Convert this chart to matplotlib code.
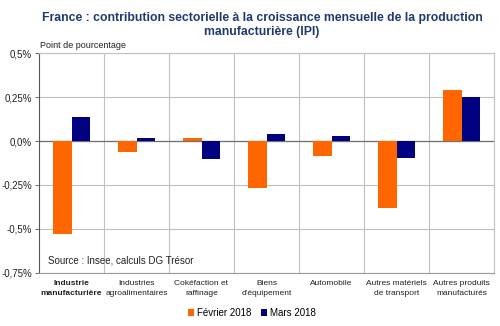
import matplotlib
matplotlib.use('Agg')
import matplotlib.pyplot as plt
import numpy as np

plt.rcParams['font.family'] = ['Liberation Sans', 'DejaVu Sans']

categories = ['Industrie\nmanufacturière', 'Industries\nagroalimentaires', 'Cokéfaction et\nraffinage',
              "Biens\nd'équipement", 'Automobile', 'Autres matériels\nde transport',
              'Autres produits\nmanufacturés']
fevrier = [-0.53, -0.065, 0.02, -0.27, -0.085, -0.38, 0.29]
mars = [0.135, 0.017, -0.10, 0.04, 0.03, -0.095, 0.25]
yticks = [-0.75, -0.5, -0.25, 0.0, 0.25, 0.5]
ytick_labels = ['-0,75%', '-0,5%', '-0,25%', '0,0%', '0,25%', '0,5%']

fig = plt.figure(figsize=(5, 3.26), dpi=100)
ax = fig.add_axes([0.078, 0.163, 0.91, 0.674])

x = np.arange(len(categories))
w = 0.285
ax.bar(x - w / 2, fevrier, w, color='#FF6600', label='Février 2018', zorder=3)
ax.bar(x + w / 2, mars, w, color='#000080', label='Mars 2018', zorder=3)

ax.set_xlim(-0.5, len(categories) - 0.5)
ax.set_ylim(-0.75, 0.5)
ax.set_yticks(yticks)
ax.set_yticklabels(ytick_labels, fontsize=7, color='#222222')
ax.tick_params(axis='y', length=3, width=0.6, color='#555555', pad=2)

# gridlines
for y in yticks:
    ax.axhline(y, color='#C0C0C0', lw=0.8, zorder=1)
ax.axhline(0, color='#707070', lw=0.9, zorder=2)
for b in np.arange(0.5, len(categories) - 0.5, 1):
    ax.axvline(b, color='#C0C0C0', lw=0.8, zorder=1)

ax.set_xticks(x)
ax.set_xticklabels(categories, fontsize=6, color='#222222', linespacing=1.6)
ax.get_xticklabels()[0].set_fontweight('bold')
ax.tick_params(axis='x', length=0, pad=5)

for s in ['top', 'right']:
    ax.spines[s].set_color('#C0C0C0')
    ax.spines[s].set_linewidth(0.8)
ax.spines['left'].set_color('#555555')
ax.spines['left'].set_linewidth(0.8)
ax.spines['bottom'].set_color('#999999')
ax.spines['bottom'].set_linewidth(0.8)

fig.text(0.524, 0.962, 'France : contribution sectorielle à la croissance mensuelle de la production\nmanufacturière (IPI)',
         ha='center', va='top', fontsize=8.8, fontweight='bold', color='#1F3A6E', linespacing=1.2)
fig.text(0.08, 0.848, 'Point de pourcentage', fontsize=6.5, color='#222222', va='bottom')
ax.text(0.02, 0.035, 'Source : Insee, calculs DG Trésor', transform=ax.transAxes,
        fontsize=7, color='#222222', va='bottom', zorder=4)

ax.legend(loc='center', bbox_to_anchor=(0.468, -0.182), ncol=2, frameon=False,
          fontsize=7, handlelength=0.6, handleheight=0.6, handletextpad=0.3, columnspacing=1.0)

fig.savefig('out.png', dpi=100)
